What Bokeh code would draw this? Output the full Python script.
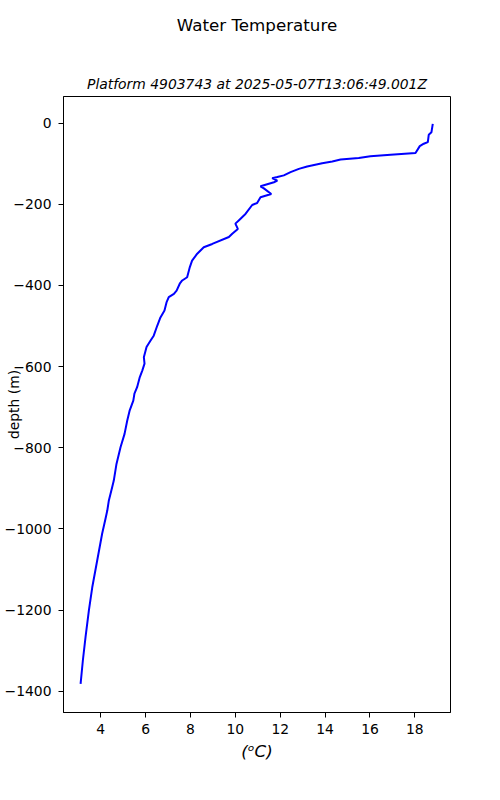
from bokeh.plotting import figure
from bokeh.models import Range1d, FixedTicker, CustomJSTickFormatter, Title, LinearAxis, ColumnDataSource
from bokeh.embed import file_html
from bokeh.resources import INLINE

# Temperature profile (degC) vs depth (m, negative down)
temperature = [18.80, 18.74, 18.62, 18.58, 18.40, 18.22, 18.03, 16.92, 16.02, 15.50,
               14.69, 14.32, 13.87, 13.20, 12.83, 12.46, 12.16, 11.87, 11.64, 11.87,
               11.72, 11.12, 11.27, 11.60, 11.12, 10.97, 10.75, 10.45, 10.15, 10.00,
               10.11, 9.86, 9.71, 8.97, 8.59, 8.30, 8.07, 7.97, 7.85, 7.63,
               7.52, 7.38, 7.26, 7.03, 6.93, 6.84, 6.66, 6.52, 6.36, 6.22,
               6.04, 5.92, 5.95, 5.85, 5.74, 5.62, 5.50, 5.45, 5.29, 5.18,
               5.06, 4.88, 4.70, 4.58, 4.51, 4.36, 4.29, 4.21, 4.06, 3.84,
               3.62, 3.47, 3.32, 3.20, 3.10]
depth = [-2, -23, -29, -47, -51, -57, -74, -78, -82, -86,
         -90, -95, -99, -107, -113, -121, -129, -133, -136, -142,
         -146, -156, -161, -175, -183, -197, -202, -224, -240, -248,
         -261, -273, -281, -298, -306, -322, -339, -355, -380, -388,
         -396, -413, -421, -429, -442, -462, -479, -499, -524, -536,
         -552, -577, -593, -610, -626, -651, -667, -684, -708, -733,
         -766, -799, -840, -881, -897, -930, -955, -975, -1012, -1078,
         -1144, -1201, -1267, -1325, -1382]

x_ticks = [4, 6, 8, 10, 12, 14, 16, 18]
y_ticks = [0, -200, -400, -600, -800, -1000, -1200, -1400]

suptitle = "Water Temperature"
subtitle = "Platform 4903743 at 2025-05-07T13:06:49.001Z"
x_label = "(\u1d52C)"
y_label = "depth (m)"

FONT = "DejaVu Sans"

src = ColumnDataSource(data=dict(t=temperature, d=depth))

p = figure(frame_width=387, frame_height=616,
           x_range=Range1d(2.338, 19.59), y_range=Range1d(-1452.5, 65.3),
           output_backend="svg", toolbar_location=None,
           min_border_left=63, min_border_right=48,
           min_border_top=96, min_border_bottom=86)

xa = p.below[0]
ya = p.left[0]

p.title.text = ""
p.title.standoff = 0

# axes subtitle, directly above the frame
p.add_layout(Title(text=subtitle, align="center", text_font=FONT,
                   text_font_size="13.9px", text_font_style="italic",
                   text_color="black", standoff=10), "above")

# figure suptitle, carried by a bare axis above the subtitle
top_axis = LinearAxis(ticker=FixedTicker(ticks=[]), axis_line_color=None,
                      major_tick_line_color=None, minor_tick_line_color=None,
                      major_tick_out=0, major_tick_in=0, major_label_standoff=0,
                      major_label_text_font_size="0px",
                      axis_label=suptitle, axis_label_text_font=FONT,
                      axis_label_text_font_size="16.7px",
                      axis_label_text_font_style="normal",
                      axis_label_text_color="black", axis_label_standoff=34)
p.add_layout(top_axis, "above")

p.line("t", "d", source=src, line_color="blue", line_width=2)

p.xgrid.visible = False
p.ygrid.visible = False
p.outline_line_color = "black"
p.outline_line_width = 1
p.outline_line_alpha = 1
p.background_fill_color = "white"
p.border_fill_color = "white"

for ax in (xa, ya):
    ax.major_tick_in = 0
    ax.major_tick_out = 5
    ax.minor_tick_line_color = None
    ax.axis_line_color = "black"
    ax.major_tick_line_color = "black"
    ax.major_label_text_font = FONT
    ax.major_label_text_font_size = "13.9px"
    ax.major_label_text_color = "black"
    ax.axis_label_text_font = FONT
    ax.axis_label_text_color = "black"

xa.ticker = FixedTicker(ticks=x_ticks)
ya.ticker = FixedTicker(ticks=y_ticks)
ya.formatter = CustomJSTickFormatter(code="return tick.toFixed(0).replace('-', '\u2212');")
xa.formatter = CustomJSTickFormatter(code="return tick.toFixed(0);")

xa.major_label_standoff = 6
xa.axis_label = x_label
xa.axis_label_text_font_size = "16.7px"
xa.axis_label_text_font_style = "italic"
xa.axis_label_standoff = 4

ya.major_label_standoff = 7
ya.axis_label = y_label
ya.axis_label_text_font_size = "13.9px"
ya.axis_label_text_font_style = "normal"
ya.axis_label_text_line_height = 0.8
ya.axis_label_standoff = -20

open("out.html", "w").write(file_html(p, INLINE))
